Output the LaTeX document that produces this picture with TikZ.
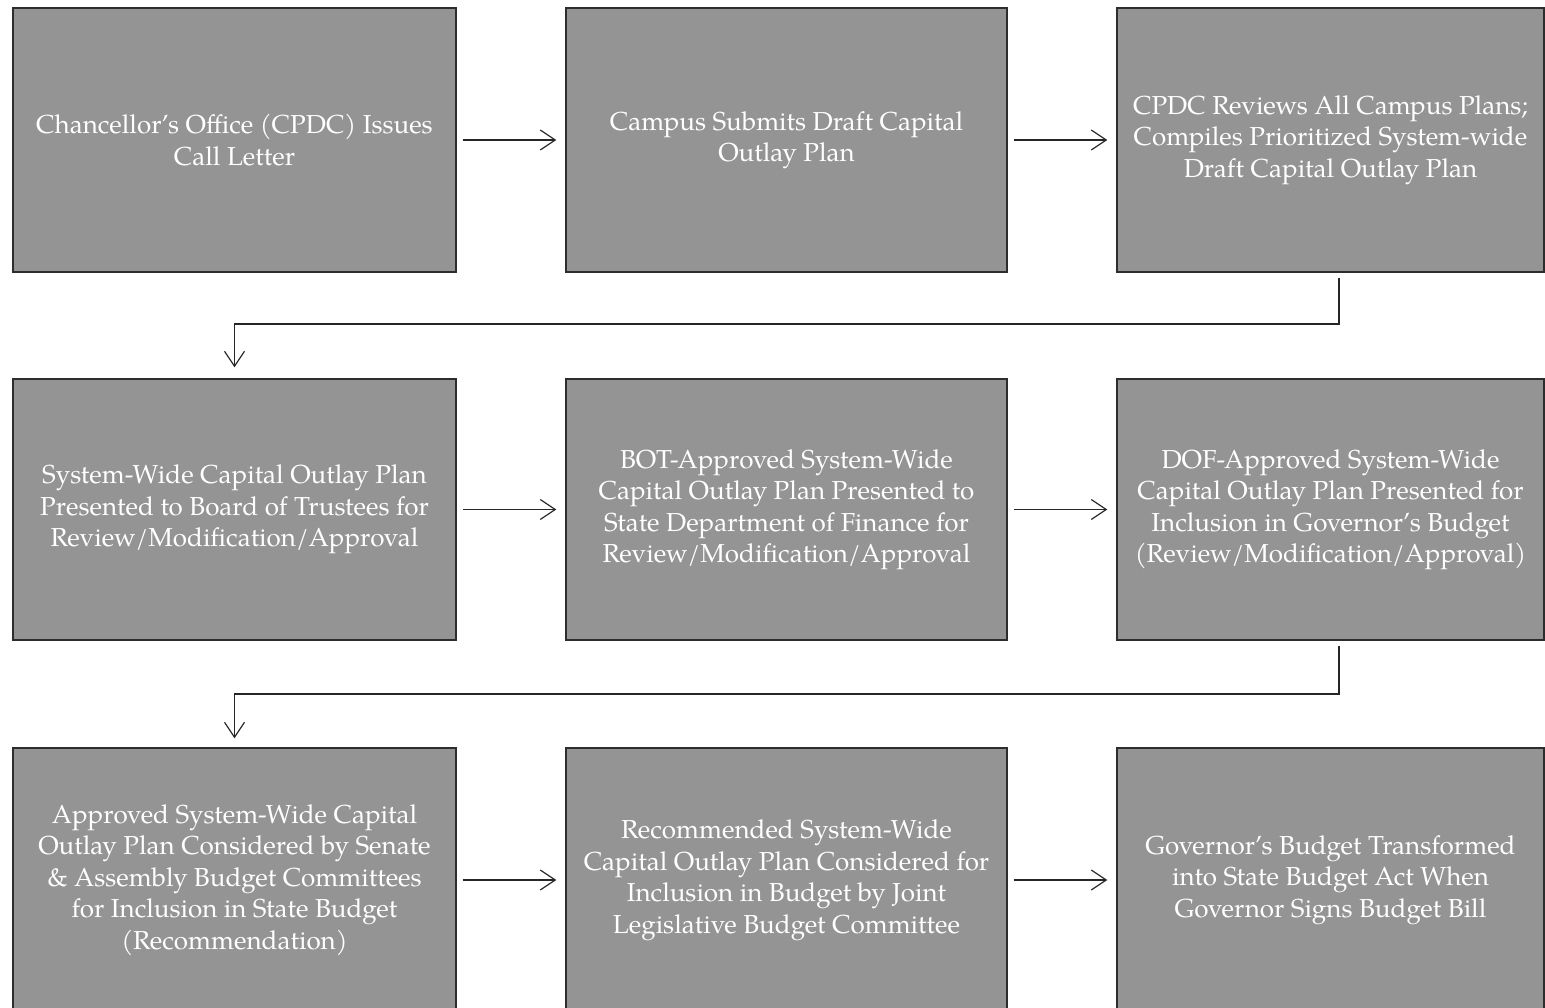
\documentclass[tikz,border=0pt]{standalone}
\usepackage{fontspec}
\setmainfont{TeX Gyre Pagella}
\usetikzlibrary{arrows.meta}
\definecolor{boxgray}{RGB}{148,148,148}
\definecolor{edgegray}{RGB}{45,45,45}
\begin{document}
\begin{tikzpicture}[x=1pt,y=-1pt,
  stepbox/.style={draw=edgegray, line width=1.3pt, fill=boxgray, inner sep=0pt,
    text=white, align=center, font=\fontsize{26}{31.5}\selectfont},
  flow/.style={draw=black!85, line width=1.2pt,
    -{Straight Barb[length=15pt,width=20pt,line width=1.2pt]}}
]
\useasboundingbox (0,0) rectangle (1545,1008);
\fill[white] (0,0) rectangle (1545,1008);

% row 1
\node[stepbox, minimum width=443pt, minimum height=264pt] (b1) at (234.5,140)
  {Chancellor's Office (CPDC) Issues\\Call Letter};
\node[stepbox, minimum width=441pt, minimum height=264pt] (b2) at (786.5,140)
  {Campus Submits Draft Capital\\Outlay Plan};
\node[stepbox, minimum width=427pt, minimum height=264pt] (b3) at (1330.5,140)
  {CPDC Reviews All Campus Plans;\\Compiles Prioritized System-wide\\Draft Capital Outlay Plan};

% row 2
\node[stepbox, minimum width=443pt, minimum height=261pt] (b4) at (234.5,509.5)
  {System-Wide Capital Outlay Plan\\Presented to Board of Trustees for\\Review/Modification/Approval};
\node[stepbox, minimum width=441pt, minimum height=261pt] (b5) at (786.5,509.5)
  {BOT-Approved System-Wide\\Capital Outlay Plan Presented to\\State Department of Finance for\\Review/Modification/Approval};
\node[stepbox, minimum width=427pt, minimum height=261pt] (b6) at (1330.5,509.5)
  {DOF-Approved System-Wide\\Capital Outlay Plan Presented for\\Inclusion in Governor's Budget\\(Review/Modification/Approval)};

% row 3
\node[stepbox, minimum width=443pt, minimum height=264pt] (b7) at (234.5,880)
  {Approved System-Wide Capital\\Outlay Plan Considered by Senate\\\& Assembly Budget Committees\\for Inclusion in State Budget\\(Recommendation)};
\node[stepbox, minimum width=441pt, minimum height=264pt] (b8) at (786.5,880)
  {Recommended System-Wide\\Capital Outlay Plan Considered for\\Inclusion in Budget by Joint\\Legislative Budget Committee};
\node[stepbox, minimum width=427pt, minimum height=264pt] (b9) at (1330.5,880)
  {Governor's Budget Transformed\\into State Budget Act When\\Governor Signs Budget Bill};

% horizontal arrows
\draw[flow, shorten <=6pt, shorten >=9pt] (b1) -- (b2);
\draw[flow, shorten <=6pt, shorten >=9pt] (b2) -- (b3);
\draw[flow, shorten <=6pt, shorten >=9pt] (b4) -- (b5);
\draw[flow, shorten <=6pt, shorten >=9pt] (b5) -- (b6);
\draw[flow, shorten <=6pt, shorten >=9pt] (b7) -- (b8);
\draw[flow, shorten <=6pt, shorten >=9pt] (b8) -- (b9);

% return connectors
\coordinate (k1) at (1339,324);
\coordinate (k2) at (1339,694);
\draw[flow, shorten <=5pt, shorten >=11pt] (b3.south -| k1) -- (k1) -- (k1 -| b4.north) -- (b4.north);
\draw[flow, shorten <=5pt, shorten >=9pt] (b6.south -| k2) -- (k2) -- (k2 -| b7.north) -- (b7.north);
\end{tikzpicture}
\end{document}
